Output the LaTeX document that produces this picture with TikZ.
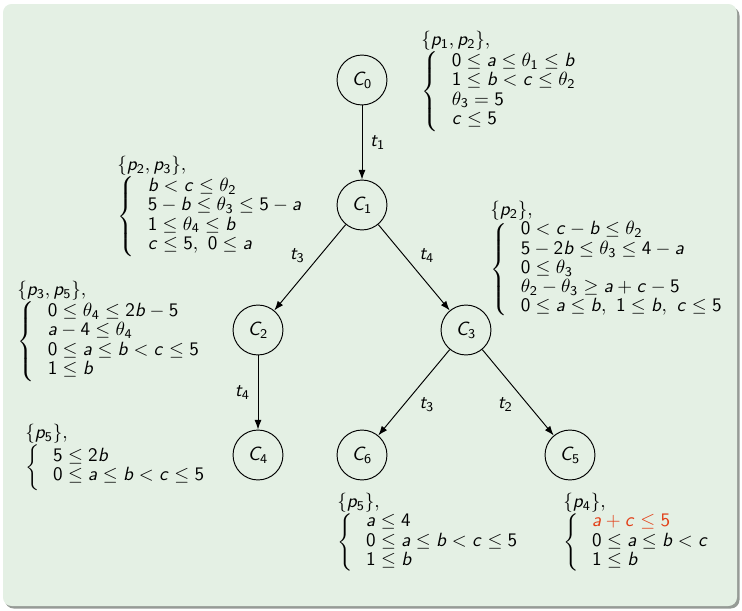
\documentclass[tikz,border=0pt]{standalone}
\usetikzlibrary{arrows.meta}
% sans-serif letters and digits in math, Greek stays as usual
\DeclareSymbolFont{sfup}{OT1}{cmss}{m}{n}
\DeclareSymbolFont{sfit}{OT1}{cmss}{m}{it}
\DeclareMathSymbol{a}{\mathalpha}{sfit}{`a}
\DeclareMathSymbol{b}{\mathalpha}{sfit}{`b}
\DeclareMathSymbol{c}{\mathalpha}{sfit}{`c}
\DeclareMathSymbol{p}{\mathalpha}{sfit}{`p}
\DeclareMathSymbol{t}{\mathalpha}{sfit}{`t}
\DeclareMathSymbol{C}{\mathalpha}{sfit}{`C}
\DeclareMathSymbol{0}{\mathalpha}{sfup}{`0}
\DeclareMathSymbol{1}{\mathalpha}{sfup}{`1}
\DeclareMathSymbol{2}{\mathalpha}{sfup}{`2}
\DeclareMathSymbol{3}{\mathalpha}{sfup}{`3}
\DeclareMathSymbol{4}{\mathalpha}{sfup}{`4}
\DeclareMathSymbol{5}{\mathalpha}{sfup}{`5}
\DeclareMathSymbol{6}{\mathalpha}{sfup}{`6}
\DeclareMathSymbol{7}{\mathalpha}{sfup}{`7}
\DeclareMathSymbol{8}{\mathalpha}{sfup}{`8}
\DeclareMathSymbol{9}{\mathalpha}{sfup}{`9}
\DeclareMathSymbol{+}{\mathbin}{sfup}{`+}
\DeclareMathSymbol{=}{\mathrel}{sfup}{`=}
\renewcommand{\arraystretch}{0.837}
\definecolor{blockbg}{RGB}{228,240,228}
\definecolor{blockshade}{RGB}{150,155,150}
\definecolor{alertred}{RGB}{226,62,22}
\tikzset{
  state/.style={circle, draw, line width=0.5pt, minimum size=26.1pt, inner sep=0pt},
  cons/.style={anchor=north west, inner sep=0pt},
  trans/.style={-{Latex[length=5pt,width=3.6pt]}, line width=0.5pt},
  lbl/.style={inner sep=2.5pt}
}
\newcommand{\guard}[2]{$\begin{array}{@{}l@{}}#1,\\ \left\{\hspace{2pt}\begin{array}{l}#2\end{array}\right.\end{array}$}
\begin{document}
\begin{tikzpicture}[x=0.5227pt,y=-0.5227pt]
\useasboundingbox (0,0) rectangle (742,611);
% block background with its shadow
\fill[blockshade, rounded corners=4.5pt] (5,7) rectangle (739.5,608.5);
\fill[blockbg, rounded corners=4.5pt] (3,4) rectangle (737,606);

% states
\node[state] (c0) at (362,80) {$C_0$};
\node[state] (c1) at (362,205) {$C_1$};
\node[state] (c2) at (258,330) {$C_2$};
\node[state] (c3) at (466,330) {$C_3$};
\node[state] (c4) at (258,455) {$C_4$};
\node[state] (c6) at (362,455) {$C_6$};
\node[state] (c5) at (570,455) {$C_5$};

% transitions
\draw[trans] (c0) -- node[lbl, right, xshift=1.5pt] {$t_1$} (c1);
\draw[trans] (c1) -- node[lbl, above left] {$t_3$} (c2);
\draw[trans] (c1) -- node[lbl, above right] {$t_4$} (c3);
\draw[trans] (c2) -- node[lbl, left, xshift=-1.5pt] {$t_4$} (c4);
\draw[trans] (c3) -- node[lbl, below right] {$t_3$} (c6);
\draw[trans] (c3) -- node[lbl, below left] {$t_2$} (c5);

% guards
\node[cons] (g0) at (421,31) {\guard{\{p_1,p_2\}}{0\le a\le\theta_1\le b\\ 1\le b<c\le\theta_2\\ \theta_3=5\\ c\le 5}};
\node[cons] (g1) at (117,156) {\guard{\{p_2,p_3\}}{b<c\le\theta_2\\ 5-b\le\theta_3\le 5-a\\ 1\le\theta_4\le b\\ c\le 5,\ 0\le a}};
\node[cons] (g3) at (490,201) {\guard{\{p_2\}}{0<c-b\le\theta_2\\ 5-2b\le\theta_3\le 4-a\\ 0\le\theta_3\\ \theta_2-\theta_3\ge a+c-5\\ 0\le a\le b,\ 1\le b,\ c\le 5}};
\node[cons] (g2) at (17,281) {\guard{\{p_3,p_5\}}{0\le\theta_4\le 2b-5\\ a-4\le\theta_4\\ 0\le a\le b<c\le 5\\ 1\le b}};
\node[cons] (g4) at (25,424) {\guard{\{p_5\}}{5\le 2b\\ 0\le a\le b<c\le 5}};
\node[cons] (g6) at (337,493) {\guard{\{p_5\}}{a\le 4\\ 0\le a\le b<c\le 5\\ 1\le b}};
\node[cons] (g5) at (563,493) {\guard{\{p_4\}}{\color{alertred}a+c\le 5\\ 0\le a\le b<c\\ 1\le b}};
\end{tikzpicture}
\end{document}
